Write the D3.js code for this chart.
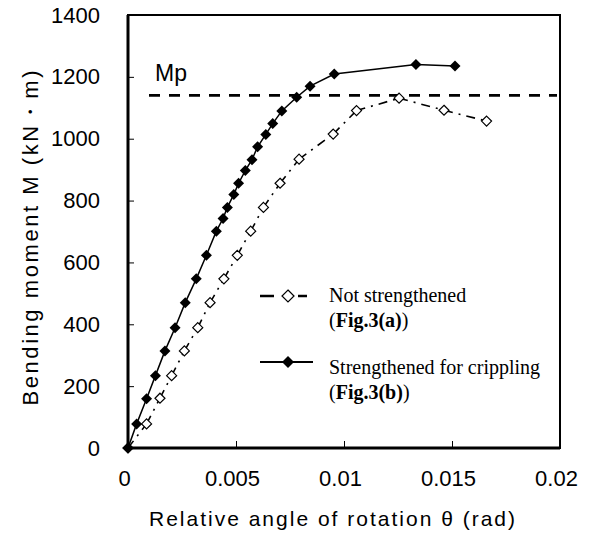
<!DOCTYPE html>
<html><head><meta charset="utf-8">
<script src="https://cdn.jsdelivr.net/npm/d3@7"></script>
<style>body{margin:0;background:#fff}</style>
</head><body>
<svg id="chart" width="596" height="543"></svg>
<script>
// Not strengthened (Fig.3(a)) - open diamonds
const thetaNS  = [0, 0.00086, 0.00148, 0.00202, 0.00261, 0.00323, 0.0038, 0.00444, 0.00506, 0.00568, 0.00627, 0.00704, 0.00792, 0.0095, 0.01058, 0.01255, 0.01463, 0.0166];
const momentNS = [0, 78, 161, 234, 314, 389, 470, 547, 623, 701, 778, 856, 934, 1015, 1091, 1131, 1092, 1057];
// Strengthened for crippling (Fig.3(b)) - filled diamonds
const thetaS  = [0, 0.0004, 0.00086, 0.00127, 0.00171, 0.00218, 0.00265, 0.00316, 0.00363, 0.00409, 0.0044, 0.0046, 0.0049, 0.00512, 0.00543, 0.00574, 0.0060, 0.00638, 0.0067, 0.00712, 0.00781, 0.00843, 0.00955, 0.01333, 0.01514];
const momentS = [0, 78, 159, 234, 314, 389, 470, 547, 623, 701, 742, 778, 820, 856, 897, 932, 974, 1014, 1049, 1090, 1134, 1170, 1209, 1240, 1235];
const mpValue = 1140;
const xTicks = [0, 0.005, 0.01, 0.015, 0.02];
const xTickLabels = ["0", "0.005", "0.01", "0.015", "0.02"];
const yTicks = [0, 200, 400, 600, 800, 1000, 1200, 1400];
const seriesNames = ["Not strengthened", "Strengthened for crippling"];
const seriesRefs = ["Fig.3(a)", "Fig.3(b)"];

const svg = d3.select("#chart");
const L = 128, R = 560, T = 15, B = 448;
const x = d3.scaleLinear().domain([0, 0.02]).range([L, R]);
const y = d3.scaleLinear().domain([0, 1400]).range([B, T]);
const sans = "'Liberation Sans', Arial, sans-serif";
const serif = "'Liberation Serif', 'Times New Roman', serif";

// frame
svg.append("rect").attr("x", L).attr("y", T).attr("width", R - L).attr("height", B - T)
  .attr("fill", "none").attr("stroke", "#000").attr("stroke-width", 2);

// axes
const yAxis = d3.axisLeft(y).tickValues(yTicks).tickSizeInner(-6).tickSizeOuter(0).tickPadding(28).tickFormat(d3.format("d"));
const gy = svg.append("g").attr("transform", `translate(${L},0)`).call(yAxis);
gy.select(".domain").remove();
gy.selectAll("text").attr("font-family", sans).attr("font-size", 22).attr("fill", "#000");

const xAxis = d3.axisBottom(x).tickValues(xTicks).tickSizeInner(-7).tickSizeOuter(0).tickPadding(22)
  .tickFormat((d, i) => xTickLabels[i]);
const gx = svg.append("g").attr("transform", `translate(0,${B})`).call(xAxis);
gx.select(".domain").remove();
gx.selectAll("text").attr("font-family", sans).attr("font-size", 22).attr("fill", "#000").attr("dx", -4);

// thick axis lines
svg.append("line").attr("x1", L).attr("x2", L).attr("y1", T).attr("y2", B).attr("stroke", "#000").attr("stroke-width", 3);
svg.append("line").attr("x1", L).attr("x2", R).attr("y1", B).attr("y2", B).attr("stroke", "#000").attr("stroke-width", 3);

// Mp line
svg.append("line").attr("x1", L + 21).attr("x2", R - 3).attr("y1", y(mpValue)).attr("y2", y(mpValue))
  .attr("stroke", "#000").attr("stroke-width", 2.6).attr("stroke-dasharray", "11,9");
svg.append("text").attr("x", 155).attr("y", 81).attr("font-family", sans).attr("font-size", 23).text("Mp");

// diamond path
const diamond = (cx, cy, r) => `M${cx},${cy - r}L${cx + r},${cy}L${cx},${cy + r}L${cx - r},${cy}Z`;

// not strengthened: dashed segments
const ptsNS = thetaNS.map((t, i) => [x(t), y(momentNS[i])]);
for (let i = 0; i < ptsNS.length - 1; i++) {
  svg.append("line").attr("x1", ptsNS[i][0]).attr("y1", ptsNS[i][1]).attr("x2", ptsNS[i + 1][0]).attr("y2", ptsNS[i + 1][1])
    .attr("stroke", "#000").attr("stroke-width", 1.6).attr("stroke-dasharray", "9,6,2,6");
}
// strengthened: solid line
const line = d3.line().x(d => d[0]).y(d => d[1]);
const ptsS = thetaS.map((t, i) => [x(t), y(momentS[i])]);
svg.append("path").attr("d", line(ptsS)).attr("fill", "none").attr("stroke", "#000").attr("stroke-width", 1.5);

svg.selectAll(".mNS").data(ptsNS).enter().append("path").attr("class", "mNS")
  .attr("d", d => diamond(d[0], d[1], 5)).attr("fill", "#fff").attr("stroke", "#000").attr("stroke-width", 1.2);
svg.selectAll(".mS").data(ptsS).enter().append("path").attr("class", "mS")
  .attr("d", d => diamond(d[0], d[1], 5.5)).attr("fill", "#000");

// legend
const lg = svg.append("g");
lg.append("line").attr("x1", 260).attr("x2", 274).attr("y1", 296).attr("y2", 296).attr("stroke", "#000").attr("stroke-width", 2.5);
lg.append("line").attr("x1", 298).attr("x2", 307).attr("y1", 296).attr("y2", 296).attr("stroke", "#000").attr("stroke-width", 2.5);
lg.append("path").attr("d", diamond(288, 296, 6)).attr("fill", "#fff").attr("stroke", "#000").attr("stroke-width", 1.2);
lg.append("line").attr("x1", 260).attr("x2", 313).attr("y1", 362).attr("y2", 362).attr("stroke", "#000").attr("stroke-width", 1.8);
lg.append("path").attr("d", diamond(288, 362, 6)).attr("fill", "#000");

const legY = [[302, 327], [374, 399]];
seriesNames.forEach((n, i) => {
  lg.append("text").attr("x", 329).attr("y", legY[i][0]).attr("font-family", serif).attr("font-size", 20).text(n);
  const t = lg.append("text").attr("x", 329).attr("y", legY[i][1]).attr("font-family", serif).attr("font-size", 20);
  t.append("tspan").text("(");
  t.append("tspan").attr("font-weight", "bold").text(seriesRefs[i]);
  t.append("tspan").text(")");
});

// axis titles
svg.append("text").attr("x", 332).attr("y", 526).attr("text-anchor", "middle")
  .attr("font-family", sans).attr("font-size", 21).attr("textLength", 366).attr("lengthAdjust", "spacing")
  .text("Relative angle of rotation θ (rad)");
svg.append("text").attr("transform", "translate(38,238) rotate(-90)").attr("text-anchor", "middle")
  .attr("font-family", sans).attr("font-size", 22).attr("textLength", 335).attr("lengthAdjust", "spacing")
  .text("Bending moment M (kN・m)");
</script>
</body></html>
